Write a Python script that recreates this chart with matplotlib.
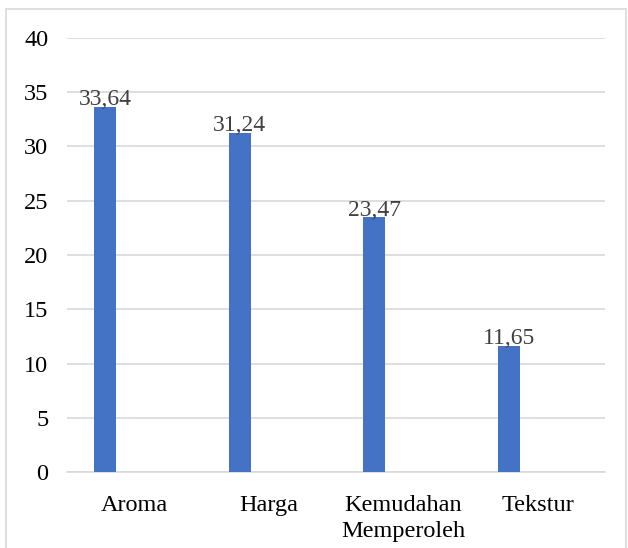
import numpy as np
import matplotlib.pyplot as plt
from matplotlib.patches import Rectangle

''' Bar chart of consumer preference factors '''

categories = ['Aroma', 'Harga', 'Kemudahan\nMemperoleh', 'Tekstur']
values = [33.64, 31.24, 23.47, 11.65]
value_labels = ['33,64', '31,24', '23,47', '11,65']
y_ticks = [0, 5, 10, 15, 20, 25, 30, 35, 40]

plt.rcParams['font.family'] = ['Liberation Serif', 'DejaVu Serif']

fig = plt.figure(figsize=(6.28, 5.48), dpi=100)
ax = fig.add_axes([0.1067, 0.138, 0.8566, 0.793])

x = np.arange(len(categories))
offset = -0.216
width = 0.164
ax.bar(x + offset, values, width=width, color='#4472C4', zorder=3)

for xi, v, lab in zip(x, values, value_labels):
    ax.text(xi + offset, v - 0.3, lab, ha='center', va='bottom', fontsize=17,
            color='#404040', zorder=4)

ax.set_xlim(-0.5, len(categories) - 0.5)
ax.set_ylim(0, 40)
ax.set_yticks(y_ticks)
ax.set_yticklabels([str(t) for t in y_ticks], fontsize=17.5)
ax.set_xticks(x)
ax.set_xticklabels(categories, fontsize=17.5, linespacing=1.35)
ax.tick_params(axis='both', length=0)
ax.tick_params(axis='y', pad=13.5)
ax.tick_params(axis='x', pad=16)

ax.grid(axis='y', color='#d9d9d9', linewidth=1.2, zorder=0)
for s in ['top', 'right', 'left']:
    ax.spines[s].set_visible(False)
ax.spines['bottom'].set_color('#d9d9d9')
ax.spines['bottom'].set_linewidth(1.2)

# light border around the whole chart
fig.patches.append(Rectangle((6 / 628, -2 / 548), 620 / 628, 541 / 548,
                             transform=fig.transFigure, fill=False,
                             edgecolor='#d9d9d9', linewidth=1.2))

fig.savefig('out.png', dpi=100)
